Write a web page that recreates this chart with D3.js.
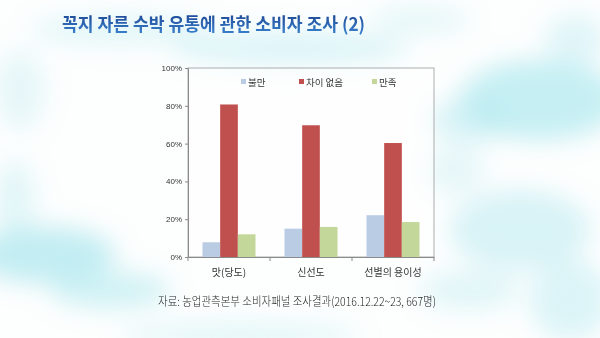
<!DOCTYPE html>
<html>
<head>
<meta charset="utf-8">
<script src="https://cdn.jsdelivr.net/npm/d3@7"></script>
<style>
  body { margin: 0; }
  svg { display: block; }
</style>
</head>
<body>
<svg class="chart"></svg>
<script>
let width = 600,
  height = 338;

// data
let categories = ["맛(당도)", "신선도", "선별의 용이성"];
let seriesNames = ["불만", "차이 없음", "만족"];
let dissatisfied = [7.8, 15.0, 22.1];
let noDifference = [80.7, 69.7, 60.3];
let satisfied = [12.0, 15.9, 18.5];
let yTicks = [0, 20, 40, 60, 80, 100];
let colors = ["#b9cce4", "#c0504d", "#c4d79b"];

let svg = d3.select(".chart").attr("width", width).attr("height", height);
let defs = svg.append("defs");

// sky background
let blur = defs.append("filter").attr("id", "blur")
  .attr("x", "-50%").attr("y", "-50%").attr("width", "200%").attr("height", "200%");
blur.append("feGaussianBlur").attr("stdDeviation", 12);

svg.append("rect").attr("width", width).attr("height", height).attr("fill", "#fdfefe");

let clouds = [
  [120, 30, 90, 14, 0.35], [290, 48, 120, 16, 0.45], [420, 20, 50, 14, 0.3],
  [540, 100, 80, 40, 0.75], [470, 120, 40, 22, 0.5], [575, 40, 30, 25, 0.4],
  [45, 255, 70, 28, 0.8], [110, 290, 60, 18, 0.6], [15, 200, 20, 40, 0.35],
  [520, 230, 70, 40, 0.5], [570, 300, 40, 40, 0.45], [470, 290, 50, 20, 0.35],
  [240, 335, 120, 12, 0.35], [20, 90, 25, 40, 0.3], [455, 170, 30, 25, 0.3]
];
svg.append("g").attr("filter", "url(#blur)")
  .selectAll("ellipse").data(clouds).enter().append("ellipse")
  .attr("cx", (d) => d[0]).attr("cy", (d) => d[1])
  .attr("rx", (d) => d[2]).attr("ry", (d) => d[3])
  .attr("fill", "#b3e9ef").attr("opacity", (d) => d[4]);

// title
let tg = defs.append("linearGradient").attr("id", "titleGrad")
  .attr("x1", 0).attr("y1", 0).attr("x2", 0).attr("y2", 1);
tg.append("stop").attr("offset", "0%").attr("stop-color", "#1a3f8a");
tg.append("stop").attr("offset", "100%").attr("stop-color", "#3b86d4");

svg.append("text")
  .attr("x", 62).attr("y", 31)
  .attr("textLength", 303).attr("lengthAdjust", "spacingAndGlyphs")
  .attr("font-family", "Noto Sans CJK KR")
  .attr("font-weight", "bold").attr("font-size", 18)
  .attr("fill", "url(#titleGrad)")
  .text("꼭지 자른 수박 유통에 관한 소비자 조사 (2)");

// chart
let plotLeft = 188, plotRight = 434, plotTop = 68, plotBottom = 257;

let x0 = d3.scaleBand().domain(categories).range([plotLeft, plotRight]).padding(0);
let x1 = d3.scaleBand().domain(seriesNames).range([0, x0.bandwidth()])
  .paddingInner(0).paddingOuter(0.82);
let y = d3.scaleLinear().domain([0, 100]).range([plotBottom, plotTop]);

svg.append("rect")
  .attr("x", plotLeft).attr("y", plotTop)
  .attr("width", plotRight - plotLeft).attr("height", plotBottom - plotTop)
  .attr("fill", "#ffffff").attr("fill-opacity", 0.4)
  .attr("stroke", "#9a9a9a").attr("stroke-width", 0.8);

let rows = categories.map((c, i) => ({
  cat: c,
  vals: [dissatisfied[i], noDifference[i], satisfied[i]]
}));

svg.append("g").selectAll("g").data(rows).enter().append("g")
  .attr("transform", (d) => `translate(${x0(d.cat)},0)`)
  .selectAll("rect")
  .data((d) => d.vals.map((v, j) => ({ s: seriesNames[j], v: v, j: j })))
  .enter().append("rect")
  .attr("x", (d) => x1(d.s))
  .attr("width", x1.bandwidth())
  .attr("y", (d) => y(d.v))
  .attr("height", (d) => plotBottom - y(d.v))
  .attr("fill", (d) => colors[d.j]);

// y axis
let yAxis = svg.append("g").attr("transform", `translate(${plotLeft},0)`)
  .call(d3.axisLeft(y).tickValues(yTicks).tickSize(3).tickFormat((d) => d + "%"));
yAxis.select(".domain").attr("stroke", "#8a8a8a");
yAxis.selectAll(".tick line").attr("stroke", "#8a8a8a");
yAxis.selectAll("text")
  .attr("font-family", "Liberation Sans").attr("font-size", 8)
  .attr("fill", "#333").attr("x", -6);

// x axis
let xAxis = svg.append("g").attr("transform", `translate(0,${plotBottom})`)
  .call(d3.axisBottom(x0).tickSize(0));
xAxis.select(".domain").attr("stroke", "#8a8a8a");
xAxis.selectAll("text")
  .attr("font-family", "Noto Sans CJK KR").attr("font-size", 10)
  .attr("fill", "#333").attr("dy", "1.25em").attr("y", 6);
svg.append("g").selectAll("line")
  .data(categories.map((c) => x0(c)).concat([plotRight]))
  .enter().append("line")
  .attr("x1", (d) => d).attr("x2", (d) => d)
  .attr("y1", plotBottom).attr("y2", plotBottom + 4)
  .attr("stroke", "#8a8a8a");

// legend
let legendX = [241, 299, 372];
let legend = svg.append("g").selectAll("g").data(seriesNames).enter().append("g")
  .attr("transform", (d, i) => `translate(${legendX[i]},82)`);
legend.append("rect")
  .attr("x", 0).attr("y", -3).attr("width", 5).attr("height", 5)
  .attr("fill", (d, i) => colors[i]);
legend.append("text")
  .attr("x", 7).attr("y", 3.5)
  .attr("font-family", "Noto Sans CJK KR").attr("font-size", 9.5)
  .attr("fill", "#333")
  .text((d) => d);

// source note
svg.append("text")
  .attr("x", 158).attr("y", 306)
  .attr("textLength", 278).attr("lengthAdjust", "spacingAndGlyphs")
  .attr("font-family", "Noto Sans CJK KR").attr("font-weight", 300)
  .attr("font-size", 12).attr("fill", "#222")
  .text("자료: 농업관측본부 소비자패널 조사결과(2016.12.22~23, 667명)");
</script>
</body>
</html>
